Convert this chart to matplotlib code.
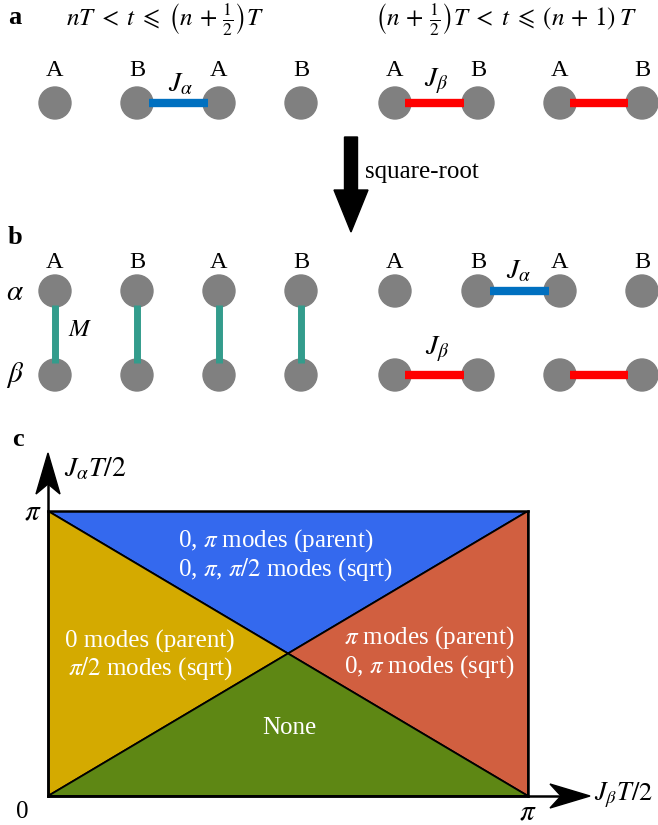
import numpy as np
import matplotlib as mpl
mpl.use("Agg")
import matplotlib.pyplot as plt
from matplotlib.patches import Circle, Polygon, FancyArrow

plt.rcParams["font.family"] = "serif"
plt.rcParams["font.serif"] = ["Liberation Serif", "DejaVu Serif"]
plt.rcParams["mathtext.fontset"] = "stix"

# ---- schematic data (pixel layout of the lattice sketches) ----
sites_left = [55, 137, 219, 301]
sites_right = [395, 478, 560, 642]
labels_ab = ["A", "B", "A", "B"]
row_a = 103
row_alpha = 291
row_beta = 375

GRAY = "#808080"
BLUE = "#0070C0"
RED = "#FF0000"
TEAL = "#339C8C"

# phase diagram regions (J_beta T/2, J_alpha T/2), boundary pi
P = np.pi
regions = {
    "top": [(0, P), (P, P), (P / 2, P / 2)],
    "left": [(0, 0), (0, P), (P / 2, P / 2)],
    "right": [(P, 0), (P, P), (P / 2, P / 2)],
    "bottom": [(0, 0), (P, 0), (P / 2, P / 2)],
}
region_colors = {"top": "#3469EE", "left": "#D4AA00", "right": "#D15F40", "bottom": "#5E8714"}

fig = plt.figure(figsize=(6.58, 8.25), dpi=100)

# ---- panel c: phase diagram axes ----
pax = fig.add_axes([48 / 658, (825 - 796) / 825, 480 / 658, 285 / 825])
for key, pts in regions.items():
    pax.add_patch(Polygon(pts, closed=True, facecolor=region_colors[key],
                          edgecolor="black", linewidth=1.3))
pax.set_xlim(0, P)
pax.set_ylim(0, P)
pax.set_xticks([])
pax.set_yticks([])
for s in pax.spines.values():
    s.set_linewidth(1.8)

# ---- overlay in pixel coordinates ----
ax = fig.add_axes([0, 0, 1, 1])
ax.set_xlim(0, 658)
ax.set_ylim(825, 0)
ax.axis("off")
ax.patch.set_alpha(0)

def site(x, y):
    ax.add_patch(Circle((x, y), 16, color=GRAY, zorder=2))

def bond(x1, y1, x2, y2, color, lw=6):
    ax.plot([x1, x2], [y1, y2], color=color, linewidth=lw, solid_capstyle="butt", zorder=3)

fs = 17.5   # A/B site labels
mfs = 18    # formulas
jfs = 20    # coupling labels

# panel a
ax.text(8, 17, "a", fontsize=19, fontweight="bold", ha="left", va="center")
ax.text(165, 20, r"$nT\;<\;t\;\leqslant\;\left(n\,+\,\frac{1}{2}\right)T$", fontsize=mfs,
        ha="center", va="center")
ax.text(506, 20, r"$\left(n\,+\,\frac{1}{2}\right)T\;<\;t\;\leqslant\;(n\,+\,1)\;T$", fontsize=mfs,
        ha="center", va="center")
for x, lab in zip(sites_left + sites_right, labels_ab + ["A", "B", "A", "B"]):
    site(x, row_a)
    ax.text(x, 70, lab, fontsize=fs, ha="center", va="center")
bond(sites_left[1] + 12, row_a, sites_left[2] - 11, row_a, BLUE)
bond(sites_right[0] + 10, row_a, sites_right[1] - 14, row_a, RED)
bond(sites_right[2] + 10, row_a, sites_right[3] - 14, row_a, RED)
ax.text(181, 85, r"$J_\alpha$", fontsize=jfs, ha="center", va="center")
ax.text(436, 81, r"$J_\beta$", fontsize=jfs, ha="center", va="center")

# square-root arrow
ax.add_patch(FancyArrow(351, 137, 0, 95, width=13, head_width=34, head_length=42,
                        length_includes_head=True, color="black", zorder=3))
ax.text(365, 172, "square-root", fontsize=18, ha="left", va="center")

# panel b
ax.text(8, 238, "b", fontsize=19, fontweight="bold", ha="left", va="center")
ax.text(15, 293, r"$\alpha$", fontsize=21, ha="center", va="center")
ax.text(15, 375, r"$\beta$", fontsize=21, ha="center", va="center")
for x, lab in zip(sites_left, labels_ab):
    site(x, row_alpha)
    site(x, row_beta)
    ax.text(x, 262, lab, fontsize=fs, ha="center", va="center")
    bond(x, row_alpha + 14, x, row_beta - 12, TEAL, lw=5)
ax.text(80, 330, r"$M$", fontsize=18, ha="center", va="center")
for x, lab in zip(sites_right, labels_ab):
    site(x, row_alpha)
    site(x, row_beta)
    ax.text(x, 262, lab, fontsize=fs, ha="center", va="center")
bond(sites_right[1] + 12, row_alpha, sites_right[2] - 11, row_alpha, BLUE)
bond(sites_right[0] + 10, row_beta, sites_right[1] - 14, row_beta, RED)
bond(sites_right[2] + 10, row_beta, sites_right[3] - 14, row_beta, RED)
ax.text(519, 272, r"$J_\alpha$", fontsize=jfs, ha="center", va="center")
ax.text(437, 349, r"$J_\beta$", fontsize=jfs, ha="center", va="center")

# panel c overlay: axes arrows, labels
ax.text(12, 440, "c", fontsize=19, fontweight="bold", ha="left", va="center")
ax.plot([48, 48], [796, 470], color="black", linewidth=1.8)
ax.plot([48, 570], [796, 796], color="black", linewidth=1.8)
ax.add_patch(Polygon([(48, 453), (36, 494), (48, 484), (60, 494)], color="black"))
ax.add_patch(Polygon([(590, 796), (550, 784), (561, 796), (550, 808)], color="black"))
ax.text(64, 469, r"$J_\alpha T/2$", fontsize=20, ha="left", va="center")
ax.text(594, 795, r"$J_\beta T/2$", fontsize=19, ha="left", va="center")
ax.text(33, 512, r"$\pi$", fontsize=21, ha="center", va="center")
ax.text(528, 812, r"$\pi$", fontsize=21, ha="center", va="center")
ax.text(22, 812, "0", fontsize=18, ha="center", va="center")

cfs = 18
ax.text(178, 555, "0, $\\pi$ modes (parent)\n0, $\\pi$, $\\pi/2$ modes (sqrt)", fontsize=cfs,
        color="white", ha="left", va="center", linespacing=1.15)
ax.text(150, 656, "0 modes (parent)\n$\\pi/2$ modes (sqrt)", fontsize=cfs,
        color="white", ha="center", va="center", linespacing=1.15)
ax.text(429, 652, "$\\pi$ modes (parent)\n0, $\\pi$ modes (sqrt)", fontsize=cfs,
        color="white", ha="center", va="center", linespacing=1.15, multialignment="right")
ax.text(289, 728, "None", fontsize=cfs, color="white", ha="center", va="center")

fig.savefig("out.png", dpi=100)
plt.close(fig)
